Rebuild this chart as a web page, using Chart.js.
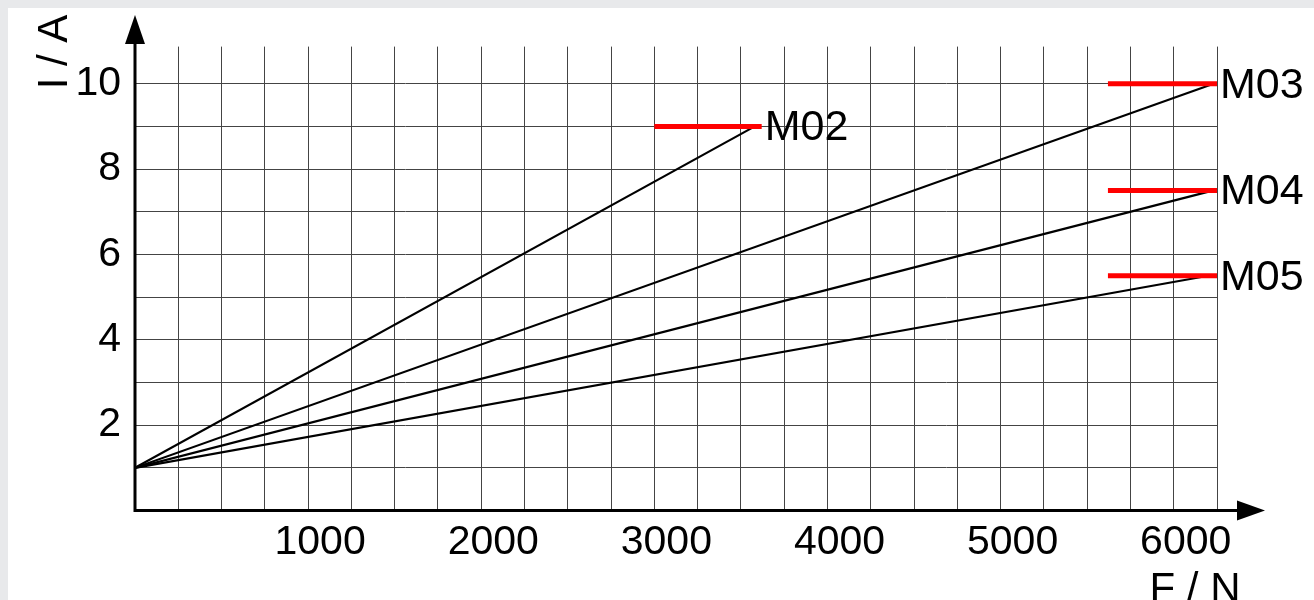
<!DOCTYPE html>
<html>
<head>
<meta charset="utf-8">
<script src="https://cdn.jsdelivr.net/npm/chart.js@4.4.1/dist/chart.umd.min.js"></script>
<style>
  html, body { margin: 0; padding: 0; background: #e8e9eb; }
  #wrap { position: absolute; left: 8px; top: 8px; width: 1306px; height: 592px; background: #fff; }
</style>
</head>
<body>
<div id="wrap"><canvas id="c"></canvas></div>
<script>
// motor curves, current I over force F
const motors = ['M02', 'M03', 'M04', 'M05'];
const startF = 0;
const startI = 1;
const endF = [3580, 6230, 6230, 6200];
const endI = [9, 10, 7.5, 5.5];
// red max-current marks
const limitFrom = [3000, 5620, 5620, 5620];
const limitTo = [3620, 6250, 6250, 6250];

const xMax = 6250, xStep = 250, xLabelStep = 1000;
const yMax = 10.87, yStep = 1, yLabelStep = 2;

const family = 'Liberation Sans, Arial, sans-serif';
const font = { family: family, size: 41 };

let datasets = [];
for (let i = 0; i < motors.length; i++) {
    datasets.push({
        label: motors[i] + ' max',
        data: [{ x: limitFrom[i], y: endI[i] }, { x: limitTo[i], y: endI[i] }],
        borderColor: '#ff0000',
        borderWidth: 5,
        pointRadius: 0
    });
}
for (let i = 0; i < motors.length; i++) {
    datasets.push({
        label: motors[i],
        data: [{ x: startF, y: startI }, { x: endF[i], y: endI[i] }],
        borderColor: '#000',
        borderWidth: 2.2,
        pointRadius: 0
    });
}

const extras = {
    id: 'extras',
    afterDatasetsDraw(chart) {
        const ctx = chart.ctx;
        const a = chart.chartArea;
        const xs = chart.scales.x, ys = chart.scales.y;
        ctx.save();
        // axes with arrows
        ctx.strokeStyle = '#000';
        ctx.fillStyle = '#000';
        ctx.lineWidth = 3;
        ctx.beginPath();
        ctx.moveTo(a.left, a.bottom);
        ctx.lineTo(a.left, 36);
        ctx.moveTo(a.left - 1.5, a.bottom);
        ctx.lineTo(1230, a.bottom);
        ctx.stroke();
        ctx.beginPath();
        ctx.moveTo(a.left, 7);
        ctx.lineTo(a.left - 10, 36);
        ctx.lineTo(a.left + 10, 36);
        ctx.closePath();
        ctx.fill();
        ctx.beginPath();
        ctx.moveTo(1257, a.bottom);
        ctx.lineTo(1229, a.bottom - 10);
        ctx.lineTo(1229, a.bottom + 10);
        ctx.closePath();
        ctx.fill();

        // motor labels at the end of the red marks
        ctx.font = '43px ' + family;
        ctx.textAlign = 'left';
        ctx.textBaseline = 'middle';
        for (let i = 0; i < motors.length; i++) {
            ctx.fillText(motors[i], xs.getPixelForValue(limitTo[i]) + 3, ys.getPixelForValue(endI[i]) + 2);
        }

        // axis titles
        ctx.font = '42px ' + family;
        ctx.textAlign = 'center';
        ctx.textBaseline = 'alphabetic';
        ctx.fillText('F / N', 1187, 594);
        ctx.translate(59, 44);
        ctx.rotate(-Math.PI / 2);
        ctx.fillText('I / A', 0, 0);
        ctx.restore();
    }
};

new Chart(document.getElementById('c'), {
    type: 'line',
    data: { datasets: datasets },
    options: {
        responsive: true,
        maintainAspectRatio: false,
        animation: false,
        layout: { padding: { top: 35, right: 97, left: 0, bottom: 0 } },
        plugins: { legend: { display: false }, tooltip: { enabled: false } },
        scales: {
            x: {
                type: 'linear',
                min: 0,
                max: xMax,
                afterBuildTicks(s) {
                    let t = [];
                    for (let v = 0; v <= xMax; v += xStep) t.push({ value: v });
                    s.ticks = t;
                },
                afterFit(s) { s.height = 89.5; },
                grid: { color: '#444', lineWidth: 1, drawTicks: false },
                border: { display: false },
                ticks: {
                    color: '#000',
                    font: font,
                    padding: 8,
                    labelOffset: 12,
                    maxRotation: 0,
                    autoSkip: false,
                    callback: v => (v > 0 && v % xLabelStep === 0) ? String(v) : ''
                }
            },
            y: {
                min: 0,
                max: yMax,
                afterBuildTicks(s) {
                    let t = [];
                    for (let v = 0; v <= 10; v += yStep) t.push({ value: v });
                    s.ticks = t;
                },
                afterFit(s) { s.width = 127; },
                grid: { color: '#444', lineWidth: 1, drawTicks: false },
                border: { display: false },
                ticks: {
                    color: '#000',
                    font: font,
                    padding: 14,
                    autoSkip: false,
                    callback: v => (v > 0 && v % yLabelStep === 0) ? String(v) : ''
                }
            }
        }
    },
    plugins: [extras]
});
</script>
</body>
</html>
